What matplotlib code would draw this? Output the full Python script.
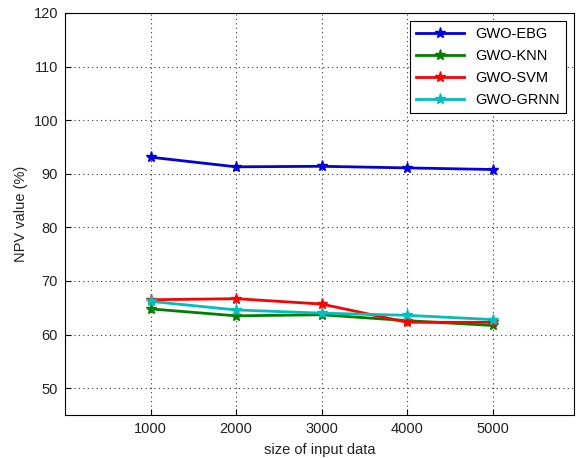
import matplotlib
matplotlib.use("Agg")
import matplotlib.pyplot as plt

plt.rcParams['font.family'] = ['Liberation Sans', 'DejaVu Sans']

# data
sizes = [1000, 2000, 3000, 4000, 5000]
npv_ebg = [93.1, 91.3, 91.4, 91.1, 90.8]
npv_knn = [64.8, 63.5, 63.7, 62.6, 61.7]
npv_svm = [66.5, 66.7, 65.7, 62.3, 62.3]
npv_grnn = [66.2, 64.6, 64.0, 63.6, 62.8]

labels = ['GWO-EBG', 'GWO-KNN', 'GWO-SVM', 'GWO-GRNN']
colors = ['#0000e0', '#008000', '#ff0000', '#00bfbf']

fig = plt.figure(figsize=(5.76, 4.58), dpi=100)
ax = fig.add_axes([65 / 576, 1 - 415 / 458, 509 / 576, 402 / 458])

for vals, lab, col in zip([npv_ebg, npv_knn, npv_svm, npv_grnn], labels, colors):
    ax.plot(sizes, vals, '-*', color=col, label=lab, linewidth=2, markersize=8)

ax.set_xlim(0, 5950)
ax.set_ylim(45, 120)
ax.set_xticks(sizes)
ax.set_yticks(range(50, 121, 10))
ax.tick_params(direction='in', labelsize=10.5, length=4, pad=5, labelcolor='#222222')
ax.grid(True, linestyle=(0, (1, 3)), color='#333333', linewidth=0.8)
ax.set_xlabel('size of input data', fontsize=10.5, labelpad=5, color='#222222')
ax.set_ylabel('NPV value (%)', fontsize=10.5, color='#222222')

leg = ax.legend(loc='upper right', fontsize=10.5, fancybox=False, framealpha=1,
                edgecolor='black', borderaxespad=0.55, handlelength=3.3,
                labelspacing=0.55)
leg.get_frame().set_linewidth(0.8)

fig.savefig('out.png', dpi=100)
